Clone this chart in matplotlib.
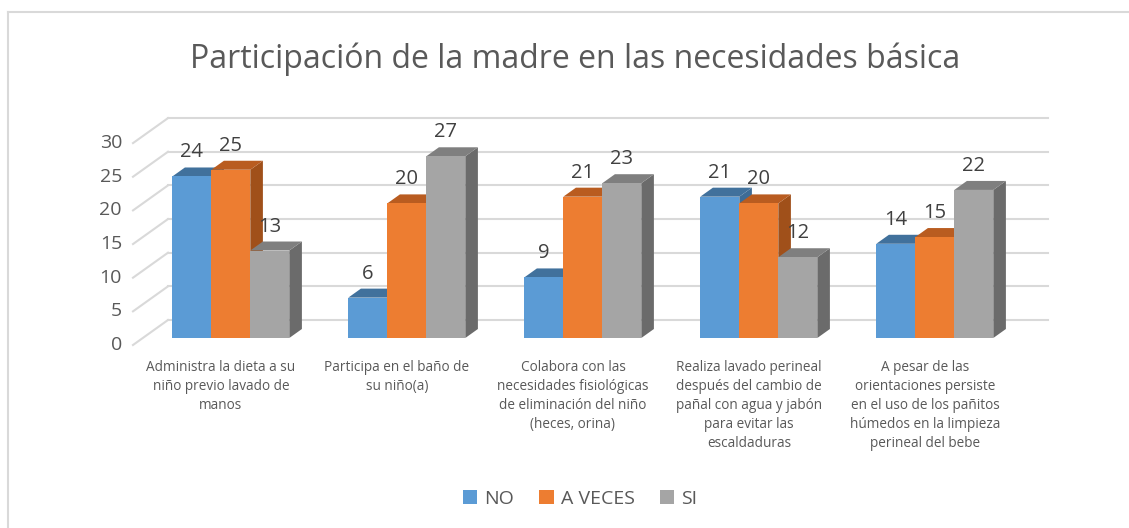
import matplotlib
matplotlib.use("Agg")
import matplotlib.pyplot as plt
from matplotlib.patches import Polygon, Patch
from matplotlib.lines import Line2D

title = "Participación de la madre en las necesidades básica"
categories = [
    "Administra la dieta a su\nniño previo lavado de\nmanos",
    "Participa en el baño de\nsu niño(a)",
    "Colabora con las\nnecesidades fisiológicas\nde eliminación del niño\n(heces, orina)",
    "Realiza lavado perineal\ndespués del cambio de\npañal con agua y jabón\npara evitar las\nescaldaduras",
    "A pesar de las\norientaciones persiste\nen el uso de los pañitos\nhúmedos en la limpieza\nperineal del bebe",
]
series_names = ["NO", "A VECES", "SI"]
no_vals = [24, 6, 9, 21, 14]
aveces_vals = [25, 20, 21, 20, 15]
si_vals = [13, 27, 23, 12, 22]
yticks = [0, 5, 10, 15, 20, 25, 30]

front_cols = ["#5B9BD5", "#ED7D31", "#A5A5A5"]
top_cols = ["#41719C", "#B95C20", "#7F7F7F"]
side_cols = ["#3E6C96", "#A0501A", "#6B6B6B"]

FONT = ["Open Sans", "DejaVu Sans"]

W, H = 1129, 528
fig = plt.figure(figsize=(W / 100, H / 100), dpi=100)
ax = fig.add_axes([0, 0, 1, 1])
ax.set_axis_off()

# pixel-based geometry of the pseudo-3D projection
px_per_cat = 176.0
px_per_val = 6.73
x0_px = 133.0       # front-left of plot
y0_px = 345.0       # front zero line
ax.set_xlim(-0.5 - x0_px / px_per_cat, -0.5 + (W - x0_px) / px_per_cat)
ax.set_ylim(-(H - y0_px) / px_per_val, y0_px / px_per_val)

DX = 35 / px_per_cat   # full depth offset (x, data units)
DY = 25 / px_per_val   # full depth offset (y, data units)
d0 = 0.28              # bar front depth fraction
bd = 0.36              # bar depth thickness fraction
bw = 39 / px_per_cat   # bar width
ncat = len(categories)
grid_c = "#D9D9D9"

# walls gridlines
for v in yticks:
    ax.add_line(Line2D([-0.5 + DX, ncat - 0.5 + DX], [v + DY, v + DY],
                       color=grid_c, lw=1.5, zorder=1))
    ax.add_line(Line2D([-0.5, -0.5 + DX], [v, v + DY],
                       color=grid_c, lw=1.5, zorder=1))
    ax.text(-0.5 - 11 / px_per_cat, v, str(v), ha="right", va="center",
            fontsize=14, color="#595959", family=FONT)

all_vals = [no_vals, aveces_vals, si_vals]
bx, by = bd * DX, bd * DY
z = 2
for i in range(ncat):
    for j in range(3):
        v = all_vals[j][i]
        xl = i + d0 * DX + (j - 1.5) * bw
        xr = xl + bw
        yb = d0 * DY
        yt = yb + v
        side = Polygon([(xr, yb), (xr + bx, yb + by), (xr + bx, yt + by), (xr, yt)],
                       closed=True, fc=side_cols[j], ec="none", zorder=z)
        top = Polygon([(xl, yt), (xr, yt), (xr + bx, yt + by), (xl + bx, yt + by)],
                      closed=True, fc=top_cols[j], ec="none", zorder=z + 0.1)
        front = Polygon([(xl, yb), (xr, yb), (xr, yt), (xl, yt)],
                        closed=True, fc=front_cols[j], ec="none", zorder=z + 0.2)
        for p in (side, top, front):
            ax.add_patch(p)
        z += 1
        ax.text((xl + xr) / 2, yt + 24 / px_per_val, str(v), ha="center",
                va="center", fontsize=14.5, color="#404040", zorder=100,
                family=FONT)

for i, lab in enumerate(categories):
    ax.text(i, -(360 - y0_px) / px_per_val, lab, ha="center", va="top",
            fontsize=9.8, color="#595959", linespacing=1.36, family=FONT)

fig.text(575 / W, 1 - 59 / H, title, ha="center", va="center", fontsize=23,
         color="#595959", family=FONT)

handles = [Patch(fc=c, ec="none") for c in front_cols]
fig.legend(handles, series_names, loc="center", bbox_to_anchor=(580 / W, 1 - 499 / H),
           ncol=3, frameon=False, handlelength=0.75, handleheight=0.75,
           handletextpad=0.35, columnspacing=1.3,
           prop={"family": FONT, "size": 14},
           labelcolor="#595959")

# outer frame (top and left visible)
fig.add_artist(Line2D([8 / W, 8 / W], [0, 1 - 12 / H], transform=fig.transFigure,
                      color="#D9D9D9", lw=1.5))
fig.add_artist(Line2D([8 / W, 1], [1 - 12 / H, 1 - 12 / H], transform=fig.transFigure,
                      color="#D9D9D9", lw=1.5))

fig.savefig("out.png", dpi=100, facecolor="white")
